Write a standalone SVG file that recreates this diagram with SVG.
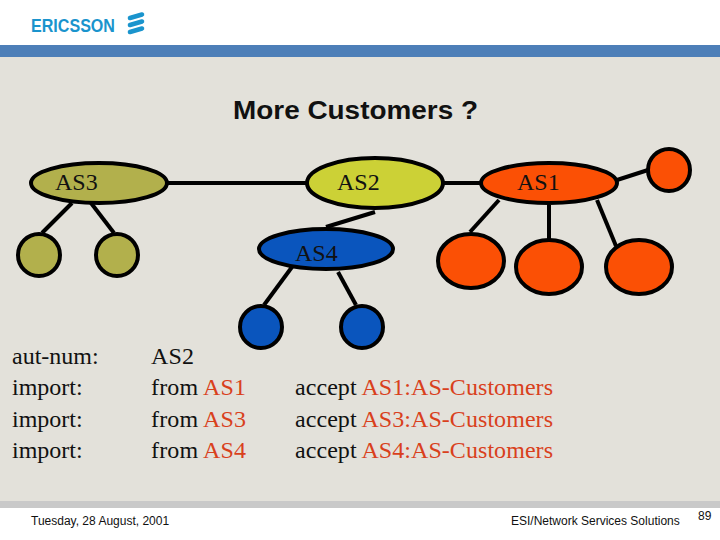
<svg xmlns="http://www.w3.org/2000/svg" width="720" height="540" viewBox="0 0 720 540">
<style>
.n{stroke:#000;stroke-width:4}
.o{fill:#b2b04c}.b{fill:#0a55bd}.r{fill:#fb5005}
.c line{stroke:#000;stroke-width:4}
text{font-family:"Liberation Serif",serif;font-size:24px;fill:#111}
.h{fill:#d9401c}
.f{font-family:"Liberation Sans",sans-serif;font-size:12px}
</style>
<rect width="720" height="540" fill="#fff"/>
<rect y="45" width="720" height="12" fill="#4d7fb8"/>
<rect y="57" width="720" height="445" fill="#e3e1da"/>
<rect y="501" width="720" height="7" fill="#c9c9c9"/>
<g id="logo">
<text x="31" y="31.500" style="font-family:'Liberation Sans',sans-serif;font-size:18px;font-weight:bold;fill:#1a94cd" textLength="84" lengthAdjust="spacingAndGlyphs">ERICSSON</text>
<g stroke="#1a94cd" stroke-width="4.600" stroke-linecap="round"><line x1="130" y1="18" x2="142" y2="14.500"/><line x1="130" y1="25" x2="142" y2="21.500"/><line x1="130" y1="32" x2="142" y2="28.500"/></g>
</g>
<text x="233" y="119" style="font-family:'Liberation Sans',sans-serif;font-size:26.500px;font-weight:bold" textLength="245" lengthAdjust="spacingAndGlyphs">More Customers ?</text>
<g class="c" id="connectors">
<line x1="167" y1="183" x2="306" y2="183"/>
<line x1="444" y1="183" x2="480" y2="183"/>
<line x1="72" y1="203" x2="42" y2="233"/>
<line x1="91" y1="203" x2="114" y2="233"/>
<line x1="292" y1="267" x2="264" y2="305"/>
<line x1="338" y1="272" x2="356" y2="305"/>
<line x1="326" y1="227" x2="375" y2="212"/>
<line x1="499" y1="200" x2="470" y2="232"/>
<line x1="549" y1="205" x2="549" y2="240"/>
<line x1="597" y1="200" x2="616" y2="246"/>
<line x1="617" y1="180" x2="648" y2="170"/>
</g>
<g id="as3"><ellipse class="n o" cx="99" cy="183" rx="68" ry="20"/><text x="55" y="190">AS3</text></g>
<g id="as2"><ellipse class="n" fill="#ccd136" cx="375" cy="183" rx="68" ry="25"/><text x="337" y="190">AS2</text></g>
<g id="as1"><ellipse class="n r" cx="549" cy="183" rx="68" ry="20"/><text x="517" y="190">AS1</text></g>
<g id="as4"><ellipse class="n b" cx="326" cy="249" rx="67" ry="20"/><text x="295" y="261">AS4</text></g>
<g id="o1"><circle class="n o" cx="39" cy="255" r="21"/></g>
<g id="o2"><circle class="n o" cx="117" cy="255" r="21"/></g>
<g id="b1"><circle class="n b" cx="261" cy="327" r="21"/></g>
<g id="b2"><circle class="n b" cx="362" cy="327" r="21"/></g>
<g id="r1"><ellipse class="n r" cx="471" cy="261" rx="33" ry="27"/></g>
<g id="r2"><ellipse class="n r" cx="549" cy="267" rx="33" ry="27"/></g>
<g id="r3"><ellipse class="n r" cx="639" cy="267" rx="33" ry="27"/></g>
<g id="r4"><circle class="n r" cx="669" cy="170" r="21"/></g>
<text x="12" y="364">aut-num:</text>
<text x="12" y="395">import:</text>
<text x="12" y="427">import:</text>
<text x="12" y="458">import:</text>
<text x="151" y="364" textLength="43">AS2</text>
<text x="151" y="395" textLength="95">from <tspan class="h">AS1</tspan></text>
<text x="151" y="427" textLength="95">from <tspan class="h">AS3</tspan></text>
<text x="151" y="458" textLength="95">from <tspan class="h">AS4</tspan></text>
<text x="295" y="395" textLength="258">accept <tspan class="h">AS1:AS-Customers</tspan></text>
<text x="295" y="427" textLength="258">accept <tspan class="h">AS3:AS-Customers</tspan></text>
<text x="295" y="458" textLength="258">accept <tspan class="h">AS4:AS-Customers</tspan></text>
<text class="f" x="31" y="525">Tuesday, 28 August, 2001</text>
<text class="f" x="511" y="525">ESI/Network Services Solutions</text>
<text class="f" x="698" y="520">89</text>
</svg>
